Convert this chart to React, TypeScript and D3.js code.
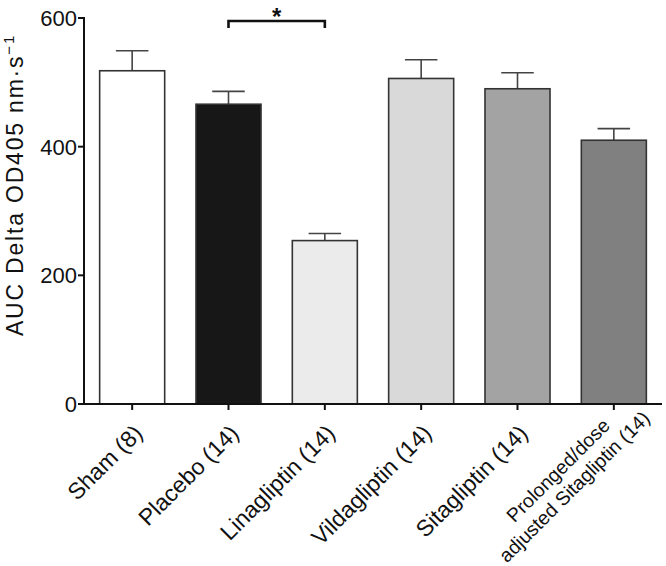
import React from "react";
import * as d3 from "d3";

const categories = [
  "Sham (8)",
  "Placebo (14)",
  "Linagliptin (14)",
  "Vildagliptin (14)",
  "Sitagliptin (14)",
  "Prolonged/dose|adjusted Sitagliptin (14)",
];
const means = [518, 466, 254, 506, 490, 410];
const sems = [31, 20, 11, 29, 25, 18];
const fills = ["#ffffff", "#171717", "#ebebeb", "#d9d9d9", "#a3a3a3", "#808080"];
const yTicks = [0, 200, 400, 600];

const W = 666;
const H = 566;
const FONT = "'Liberation Sans', Arial, sans-serif";

export default function App() {
  const x = d3
    .scaleBand<string>()
    .domain(categories)
    .range([84, 662])
    .paddingInner(0.325)
    .paddingOuter(0.1625);
  const y = d3.scaleLinear().domain([0, 600]).range([404, 18]);
  const bw = x.bandwidth();
  const cx = (c: string) => (x(c) as number) + bw / 2;

  const c1 = cx(categories[1]);
  const c2 = cx(categories[2]);

  return (
    <svg
      width={W}
      height={H}
      style={{ position: "absolute", left: 0, top: 0 }}
      fontFamily={FONT}
    >
      <rect width={W} height={H} fill="#fff" />
      {categories.map((c, i) => (
        <g key={c}>
          <line
            x1={cx(c)}
            x2={cx(c)}
            y1={y(means[i])}
            y2={y(means[i] + sems[i])}
            stroke="#444"
            strokeWidth={1.6}
          />
          <line
            x1={cx(c) - bw / 4}
            x2={cx(c) + bw / 4}
            y1={y(means[i] + sems[i])}
            y2={y(means[i] + sems[i])}
            stroke="#444"
            strokeWidth={1.6}
          />
          <rect
            x={x(c)}
            y={y(means[i])}
            width={bw}
            height={y(0) - y(means[i])}
            fill={fills[i]}
            stroke="#333"
            strokeWidth={1.6}
          />
        </g>
      ))}
      <line x1={84} x2={84} y1={y(600) - 1} y2={y(0) + 1} stroke="#111" strokeWidth={2} />
      {yTicks.map((t) => (
        <g key={t}>
          <line x1={78} x2={84} y1={y(t)} y2={y(t)} stroke="#111" strokeWidth={2} />
          <text x={77} y={y(t)} dy="0.36em" textAnchor="end" fontSize={22} fill="#111">
            {t}
          </text>
        </g>
      ))}
      <line x1={83} x2={662} y1={y(0)} y2={y(0)} stroke="#111" strokeWidth={2} />
      {categories.map((c) => (
        <line key={c} x1={cx(c)} x2={cx(c)} y1={y(0)} y2={y(0) + 6} stroke="#111" strokeWidth={2} />
      ))}
      {categories.map((c) => {
        const lines = c.split("|");
        const ax = cx(c) + 6;
        const ay = 429;
        if (lines.length === 1) {
          return (
            <text
              key={c}
              transform={`translate(${ax},${ay}) rotate(-45)`}
              textAnchor="end"
              dy="0.35em"
              fontSize={23}
              fill="#111"
            >
              {c}
            </text>
          );
        }
        return (
          <g key={c} transform={`translate(${ax},${ay}) rotate(-45)`}>
            {lines.map((l, j) => (
              <text
                key={j}
                x={-73}
                y={-3 + (j - (lines.length - 1) / 2) * 23}
                dy="0.35em"
                textAnchor="middle"
                fontSize={19.5}
                fill="#111"
              >
                {l}
              </text>
            ))}
          </g>
        );
      })}
      <text
        transform={`translate(23,185) rotate(-90)`}
        textAnchor="middle"
        fontSize={23}
        letterSpacing={1.8}
        fill="#111"
      >
        AUC Delta OD405 nm·s
        <tspan fontSize={15} dy="-9">−1</tspan>
      </text>
      <path d={`M${c1},28 V21 H${c2} V28`} fill="none" stroke="#111" strokeWidth={2.6} />
      <text x={(c1 + c2) / 2} y={25} textAnchor="middle" fontSize={24} fontWeight="bold" fill="#111">
        *
      </text>
    </svg>
  );
}
